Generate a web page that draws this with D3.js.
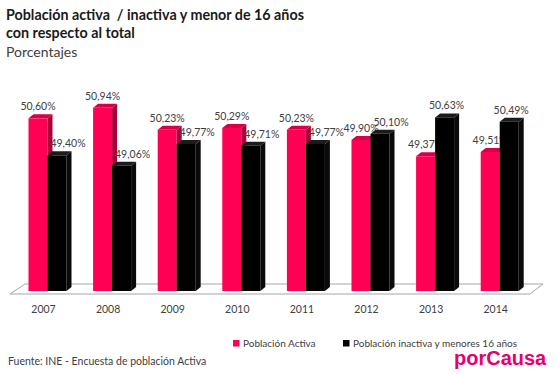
<!DOCTYPE html>
<html>
<head>
<meta charset="utf-8">
<script src="https://cdn.jsdelivr.net/npm/d3@7"></script>
<style>
  body { margin: 0; background: #fff; }
  text { font-family: Lato, "Open Sans", sans-serif; }
</style>
</head>
<body>
<div id="vis"></div>
<script>
// data
var years = ["2007", "2008", "2009", "2010", "2011", "2012", "2013", "2014"];
var activa = [50.60, 50.94, 50.23, 50.29, 50.23, 49.90, 49.37, 49.51];
var inactiva = [49.40, 49.06, 49.77, 49.71, 49.77, 50.10, 50.63, 50.49];
var seriesNames = ["Población Activa", "Población inactiva y menores 16 años"];

var width = 560,
    height = 374,
    depthX = 5,   // 3d offset of the bars
    depthY = -4,
    barW = 19;

var colores = [
  {front: "#ff0055", top: "#d6004a", side: "#a8003a"},
  {front: "#000000", top: "#1c1c1c", side: "#0a0a0a"}
];

var svg = d3.select("#vis").append("svg")
    .attr("width", width)
    .attr("height", height);

var x = d3.scaleBand()
    .domain(years)
    .range([15.2, 532]);

var y = d3.scaleLinear()
    .domain([45, 51])
    .range([291, 106]);

var fmt = function(v) { return d3.format(".2f")(v).replace(".", ",") + "%"; };

// titles
svg.append("text").attr("x", 6).attr("y", 20)
    .style("font-weight", "bold").style("font-size", "14.3px").style("fill", "#1a1a1a")
    .style("white-space", "pre")
    .text("Población activa  / inactiva y menor de 16 años");
svg.append("text").attr("x", 6).attr("y", 38)
    .style("font-weight", "bold").style("font-size", "14.3px").style("fill", "#1a1a1a")
    .text("con respecto al total");
svg.append("text").attr("x", 6).attr("y", 57)
    .style("font-size", "14px").style("fill", "#404040")
    .text("Porcentajes");

// floor (3d base)
var floorY = 294, backY = 284;
svg.append("polygon")
    .attr("points", [[10, floorY], [530, floorY], [543, backY], [25, backY]].map(function(p) { return p.join(","); }).join(" "))
    .attr("fill", "#fff")
    .attr("stroke", "#a6a6a6")
    .attr("stroke-width", 1);

// bars
var data = years.map(function(yr, i) {
  return {year: yr, vals: [activa[i], inactiva[i]]};
});

var grupos = svg.selectAll("g.grupo")
    .data(data)
    .enter()
    .append("g")
    .attr("class", "grupo");

grupos.each(function(d) {
  var g = d3.select(this),
      cx = x(d.year) + x.bandwidth() / 2;
  d.vals.forEach(function(v, s) {
    var x0 = s == 0 ? cx - barW : cx,
        x1 = x0 + barW,
        yt = y(v),
        yb = y(45),
        c = colores[s];
    // side face
    g.append("polygon")
        .attr("points", [[x1, yt], [x1 + depthX, yt + depthY], [x1 + depthX, yb + depthY], [x1, yb]].join(" "))
        .attr("fill", c.side);
    // top face
    g.append("polygon")
        .attr("points", [[x0, yt], [x0 + depthX, yt + depthY], [x1 + depthX, yt + depthY], [x1, yt]].join(" "))
        .attr("fill", c.top);
    // front
    g.append("rect")
        .attr("x", x0)
        .attr("y", yt)
        .attr("width", barW)
        .attr("height", yb - yt)
        .attr("fill", c.front);
    // label (the black label moves right when it would collide with the pink one)
    var off = s == 0 ? 0 : (d.vals[1] - d.vals[0] > 0.5 ? 2 : 11);
    g.append("text")
        .attr("x", (x0 + x1) / 2 + off)
        .attr("y", yt + depthY - 4)
        .attr("text-anchor", "middle")
        .style("font-size", "10.5px")
        .style("fill", "#404040")
        .text(fmt(v));
  });
});

// x axis
var xAxis = svg.append("g")
    .attr("transform", "translate(-4," + 302 + ")")
    .call(d3.axisBottom(x).tickSize(0).tickPadding(4));
xAxis.select(".domain").remove();
xAxis.selectAll("text")
    .style("font-family", "Lato, sans-serif")
    .style("font-size", "10.5px")
    .style("fill", "#404040");

// legend
var leg = svg.selectAll("g.leg")
    .data(seriesNames)
    .enter()
    .append("g")
    .attr("class", "leg")
    .attr("transform", function(d, i) { return "translate(" + (i == 0 ? 233 : 343) + ",340)"; });
leg.append("rect")
    .attr("width", 6.5).attr("height", 6.5)
    .attr("fill", function(d, i) { return colores[i].front; });
leg.append("text")
    .attr("x", 10).attr("y", 6.5)
    .style("font-size", "10px")
    .style("fill", "#404040")
    .text(function(d) { return d; });

// source + logo
svg.append("text").attr("x", 8).attr("y", 365)
    .style("font-size", "10.5px").style("fill", "#404040")
    .text("Fuente: INE - Encuesta de población Activa");
svg.append("text").attr("x", 454).attr("y", 365)
    .style("font-family", "'Liberation Sans', Arial, sans-serif")
    .style("font-weight", "bold").style("font-size", "20px").style("fill", "#e5006d")
    .text("porCausa");
</script>
</body>
</html>
